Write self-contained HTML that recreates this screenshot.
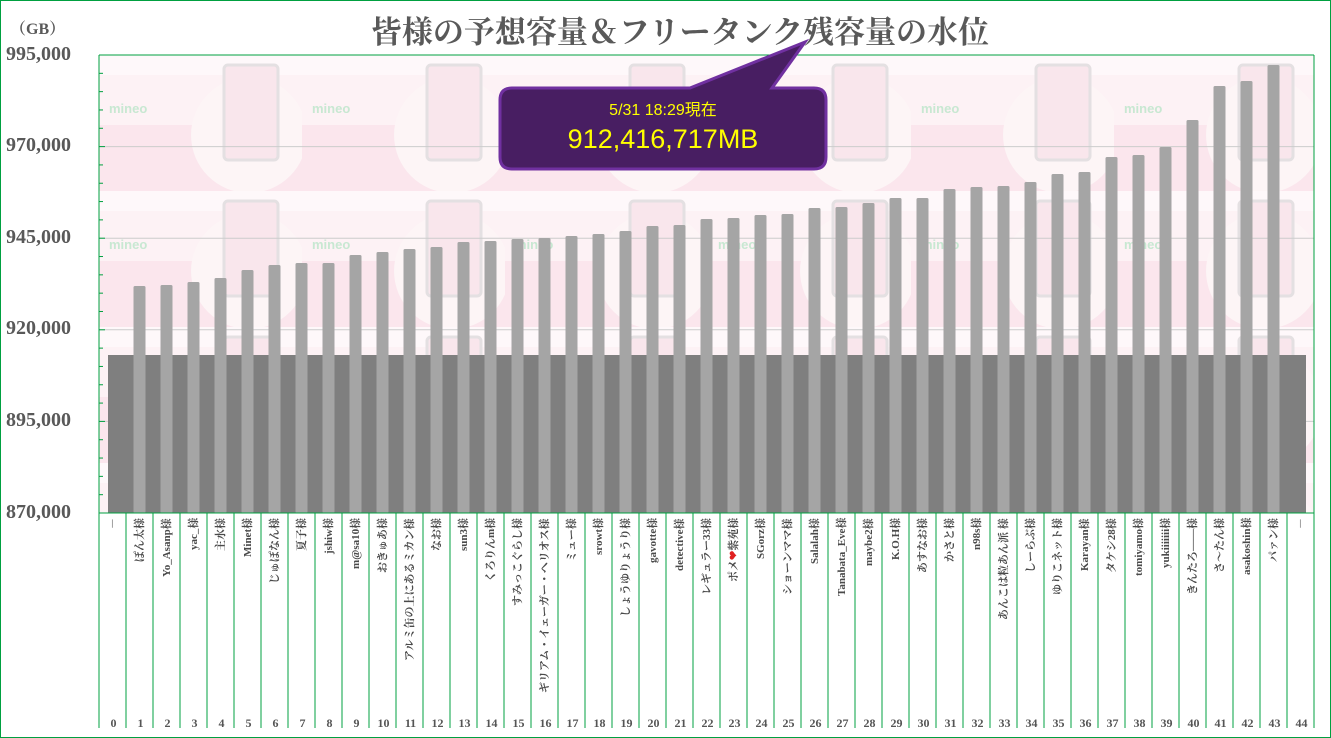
<!DOCTYPE html>
<html><head><meta charset="utf-8"><style>
body{margin:0;width:1331px;height:738px;overflow:hidden;background:#fff;font-family:"Liberation Serif","Noto Serif CJK SC",serif;}
#frame{position:absolute;left:0;top:0;width:1329px;height:736px;border:1px solid #00a040;}
.title{position:absolute;left:280px;width:800px;top:7px;text-align:center;font-size:31px;font-weight:bold;color:#595959;font-family:"Liberation Serif","Noto Serif CJK JP",serif;}
.yl{position:absolute;left:6px;font-size:20px;font-weight:bold;color:#595959;}
.lab{position:absolute;top:518px;height:200px;width:27px;writing-mode:vertical-rl;text-orientation:sideways;transform:rotate(180deg);text-align:end;font-size:11px;font-weight:bold;color:#4a4a4a;line-height:27px;white-space:nowrap;font-family:"Liberation Serif","Noto Serif CJK JP",serif;}
.num{position:absolute;top:716px;width:27px;text-align:center;font-size:12px;font-weight:bold;color:#555;}
</style></head><body>
<div id="frame"></div>
<div class="title">皆様の予想容量＆フリータンク残容量の水位</div>
<div class="yl" style="top:16px;font-size:16px;left:10px">（GB）</div>
<div class="yl" style="top:43px">995,000</div>
<div class="yl" style="top:134px">970,000</div>
<div class="yl" style="top:226px">945,000</div>
<div class="yl" style="top:317px">920,000</div>
<div class="yl" style="top:409px">895,000</div>
<div class="yl" style="top:501px">870,000</div>
<svg width="1331" height="738" style="position:absolute;left:0;top:0">
<defs>
<pattern id="bg" x="99" y="55" width="203" height="136" patternUnits="userSpaceOnUse">
<rect width="203" height="136" fill="#fdf2f5"/>
<rect y="0" width="203" height="20" fill="#fef8fa"/>
<rect y="70" width="203" height="66" fill="#fbe6ed"/>
<circle cx="150" cy="80" r="58" fill="#fdf5f6"/>
<rect x="125" y="10" width="54" height="95" rx="4" fill="#f9e6ec" stroke="#e4e0e2" stroke-width="3"/>
<text x="10" y="58" font-family="Liberation Sans" font-weight="bold" font-size="13" fill="#c8e8d2">mineo</text>
</pattern>
</defs>
<rect x="99" y="55" width="1215" height="458" fill="url(#bg)"/>
<g stroke="#ccc" stroke-width="1">
<line x1="99" y1="146.6" x2="1314" y2="146.6"/><line x1="99" y1="238.2" x2="1314" y2="238.2"/>
<line x1="99" y1="329.8" x2="1314" y2="329.8"/><line x1="99" y1="421.4" x2="1314" y2="421.4"/>
</g>
<rect x="108" y="355" width="1198" height="158" fill="#7f7f7f"/>
<g fill="#a5a5a5" id="bars"></g>
<g stroke="#00a040" stroke-width="1" id="vl"></g>
<line x1="99" y1="55" x2="1314" y2="55" stroke="#00a040"/>
<line x1="99" y1="513" x2="1314" y2="513" stroke="#00a040"/>
<line x1="1314" y1="55" x2="1314" y2="513" stroke="#00a040"/>
<g id="ticks" stroke="#00a040"></g>
<path d="M512,88 L690,88 L805,42 L772,88 L814,88 Q826,88 826,100 L826,157 Q826,169 814,169 L512,169 Q500,169 500,157 L500,100 Q500,88 512,88 Z" fill="#481e62" stroke="#7030a0" stroke-width="3"/>
<text x="663" y="115" text-anchor="middle" font-family="Liberation Sans,Noto Sans CJK JP,sans-serif" font-size="16" fill="#ffff00">5/31 18:29現在</text>
<text x="663" y="148" text-anchor="middle" font-family="Liberation Sans,sans-serif" font-size="27" fill="#ffff00">912,416,717MB</text>
</svg>
<div id="labs"></div>
<script>
var tops=[286,285,282,278,270,265,263,263,255,252,249,247,242,241,239,238,236,234,231,226,225,219,218,215,214,208,207,203,198,198,189,187,186,182,174,172,157,155,147,120,86,81,65];
var ns="http://www.w3.org/2000/svg",b=document.getElementById('bars'),v=document.getElementById('vl'),t=document.getElementById('ticks');
tops.forEach(function(y,i){var r=document.createElementNS(ns,'rect');r.setAttribute('x',99+27*(i+1)+7.5);r.setAttribute('y',y);r.setAttribute('width',12);r.setAttribute('height',513-y);r.setAttribute('rx',1.5);b.appendChild(r);});
for(var i=0;i<=45;i++){var l=document.createElementNS(ns,'line');var x=99+27*i;l.setAttribute('x1',x);l.setAttribute('x2',x);l.setAttribute('y1',i==0||i==45?55:513);l.setAttribute('y2',728);v.appendChild(l);}
for(var k=0;k<=25;k++){var y=513-k*18.32;var l=document.createElementNS(ns,'line');l.setAttribute('x1',99);l.setAttribute('x2',k%5==0?105:103);l.setAttribute('y1',y);l.setAttribute('y2',y);t.appendChild(l);}
var names=["－","ぽん太様","Yo_Asanp様","yac_様","主水様","Minet様","じゅぽなん様","夏子様","jshiw様","m@sa10様","おきゅあ様","アルミ缶の上にあるミカン様","なお様","sun3様","くろりんm様","すみっこぐらし様","ギリアム・イェーガー・ヘリオス様","ミュー様","srowt様","しょうゆりょうり様","gavotte様","detective様","レギュラー33様","ポメ❤紫苑様","SGorz様","ショーンママ様","Salalah様","Tanabata_Eve様","maybe2様","K.O.H様","あすなお様","かさと様","n98s様","あんこは粒あん派 様","しーらぶ様","ゆりこネット様","Karayan様","タケシ28様","tomiyamo様","yukiiiiiii様","きんたろ――様","さ～たん様","asakoshin様","パァン様","－"];
var h="";names.forEach(function(n,i){var x=99+27*i+1;h+='<div class="lab" style="left:'+x+'px">'+n.replace('❤','<span style="color:#e02020">❤</span>')+'</div><div class="num" style="left:'+x+'px">'+i+'</div>';});
document.getElementById('labs').innerHTML=h;
</script>
</body></html>
